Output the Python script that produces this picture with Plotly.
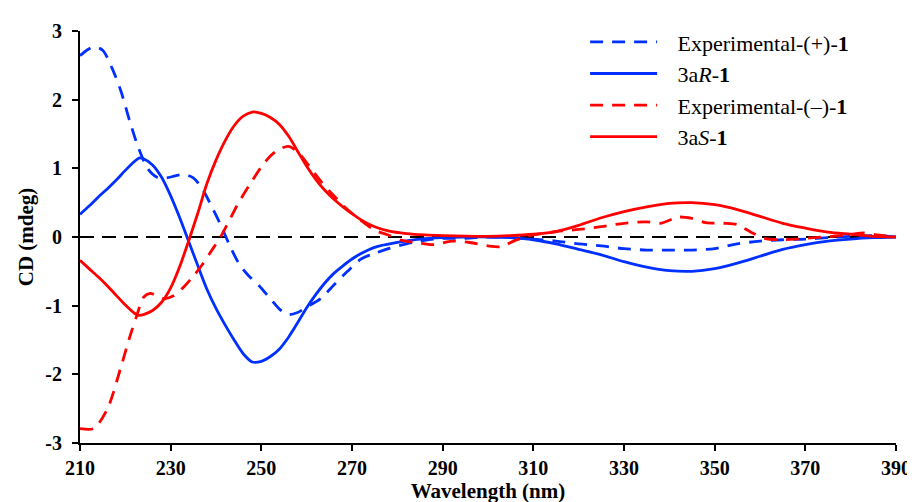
import plotly.graph_objects as go

# ---- data ----
wl_exp_pos = [210, 211.5, 213, 215, 217, 219, 221, 223, 225, 227, 229, 231, 233, 235, 237, 239, 241, 243, 245, 247,
              249.5, 252, 254, 256, 258, 260, 263, 266, 269, 272, 275, 278, 282, 286, 290, 295, 300, 305, 310, 315,
              320, 325, 330, 335, 340, 345, 350, 355, 360, 365, 370, 375, 380, 385, 390]
cd_exp_pos = [2.64, 2.72, 2.77, 2.72, 2.47, 2.13, 1.68, 1.28, 0.99, 0.87, 0.86, 0.89, 0.91, 0.86, 0.70, 0.45, 0.18, -0.12, -0.38, -0.55,
              -0.71, -0.90, -1.05, -1.13, -1.10, -1.02, -0.90, -0.70, -0.50, -0.32, -0.24, -0.17, -0.10, -0.05, -0.02, -0.02, 0.00, -0.01, -0.03, -0.06,
              -0.10, -0.13, -0.17, -0.19, -0.19, -0.19, -0.17, -0.10, -0.06, -0.04, -0.03, -0.01, 0.01, 0.02, 0.0]

wl_calc_r = [210, 212, 214, 216, 218, 220, 222, 223, 224, 226, 228, 230, 232, 234, 236, 238, 240, 242, 244, 246,
             248, 250, 252, 254, 256, 258, 260, 262, 264, 266, 268, 270, 272, 275, 280, 285, 290, 300, 305, 310,
             315, 320, 325, 330, 335, 340, 345, 350, 355, 360, 365, 370, 375, 380, 385, 390]
cd_calc_r = [0.33, 0.45, 0.58, 0.70, 0.83, 0.97, 1.10, 1.15, 1.14, 1.05, 0.87, 0.60, 0.28, -0.07, -0.42, -0.76, -1.04, -1.28, -1.50, -1.70,
             -1.82, -1.81, -1.74, -1.63, -1.46, -1.25, -1.03, -0.84, -0.67, -0.53, -0.42, -0.32, -0.24, -0.15, -0.08, -0.03, -0.01, 0.00, -0.01, -0.04,
             -0.10, -0.18, -0.26, -0.36, -0.44, -0.49, -0.50, -0.46, -0.38, -0.28, -0.18, -0.11, -0.06, -0.03, -0.01, 0.0]

wl_exp_neg = [210, 213, 216, 219, 221, 222.5, 224, 225.5, 227, 228.5, 230.5, 233, 235, 237, 239, 241, 243, 245, 247.5, 250,
              252, 254, 256, 258, 260, 263, 266, 269, 272, 275, 278, 281, 284, 288, 292, 296, 300, 303, 306, 310,
              315, 320, 325, 330, 335, 338, 342, 345, 348, 352, 355, 358, 361, 364, 368, 372, 376, 380, 383, 386, 390]
cd_exp_neg = [-2.79, -2.79, -2.51, -1.90, -1.45, -1.15, -0.88, -0.82, -0.86, -0.90, -0.86, -0.72, -0.57, -0.40, -0.20, 0.0, 0.25, 0.50, 0.77, 1.02,
              1.18, 1.28, 1.32, 1.24, 1.08, 0.82, 0.60, 0.40, 0.24, 0.10, 0.03, -0.05, -0.08, -0.11, -0.06, -0.08, -0.13, -0.14, -0.05, 0.03,
              0.08, 0.11, 0.15, 0.20, 0.22, 0.20, 0.29, 0.27, 0.21, 0.20, 0.18, 0.07, -0.02, -0.04, -0.03, -0.01, 0.01, 0.04, 0.06, 0.03, 0.0]

wl_calc_s = [210, 212, 214, 216, 218, 220, 222, 223, 224, 226, 228, 230, 232, 234, 236, 238, 240, 242, 244, 246,
             248, 250, 252, 254, 256, 258, 260, 262, 264, 266, 268, 270, 272, 275, 278, 282, 286, 290, 300, 305,
             310, 315, 320, 325, 330, 335, 340, 345, 350, 355, 360, 365, 370, 375, 380, 385, 390]
cd_calc_s = [-0.34, -0.46, -0.58, -0.71, -0.85, -0.99, -1.11, -1.14, -1.13, -1.07, -0.95, -0.74, -0.43, -0.05, 0.35, 0.78, 1.12, 1.40, 1.62, 1.76,
             1.82, 1.80, 1.74, 1.64, 1.47, 1.25, 1.03, 0.84, 0.68, 0.55, 0.44, 0.34, 0.25, 0.15, 0.09, 0.05, 0.03, 0.02, 0.01, 0.02,
             0.04, 0.08, 0.17, 0.28, 0.37, 0.44, 0.49, 0.50, 0.47, 0.40, 0.30, 0.20, 0.13, 0.07, 0.04, 0.01, 0.0]

x_ticks = [210, 230, 250, 270, 290, 310, 330, 350, 370, 390]
y_ticks = [-3, -2, -1, 0, 1, 2, 3]
zero_x = [210, 390]
zero_y = [0, 0]

GAP = "\u2002\u2009"
names = [GAP + "Experimental-(+)-<b>1</b>", GAP + "3a<i>R</i>-<b>1</b>",
         GAP + "Experimental-(\u2013)-<b>1</b>", GAP + "3a<i>S</i>-<b>1</b>"]

BLUE = "rgb(0,48,255)"
RED = "rgb(255,0,0)"
DASH = "13px,9px"
LW = 2.8

fig = go.Figure()
fig.add_trace(go.Scatter(x=zero_x, y=zero_y, mode="lines", showlegend=False, hoverinfo="skip",
                         line=dict(color="black", width=2, dash="14px,8px")))
fig.add_trace(go.Scatter(x=wl_exp_pos, y=cd_exp_pos, mode="lines", name=names[0],
                         line=dict(color=BLUE, width=LW, dash=DASH, shape="spline", smoothing=0.8)))
fig.add_trace(go.Scatter(x=wl_calc_r, y=cd_calc_r, mode="lines", name=names[1],
                         line=dict(color=BLUE, width=LW, shape="spline", smoothing=0.8)))
fig.add_trace(go.Scatter(x=wl_exp_neg, y=cd_exp_neg, mode="lines", name=names[2],
                         line=dict(color=RED, width=LW, dash=DASH, shape="spline", smoothing=0.8)))
fig.add_trace(go.Scatter(x=wl_calc_s, y=cd_calc_s, mode="lines", name=names[3],
                         line=dict(color=RED, width=LW, shape="spline", smoothing=0.8)))

tickfont = dict(family="Liberation Serif", size=20, color="black", weight="bold")
titlefont = dict(family="Liberation Serif", size=21, color="black", weight="bold")

fig.update_layout(
    width=915, height=502,
    margin=dict(l=72, r=18, t=22, b=57),
    paper_bgcolor="white", plot_bgcolor="white",
    font=dict(family="Liberation Serif", color="black"),
    legend=dict(x=0.619, y=1.024, xanchor="left", yanchor="top",
                font=dict(family="Liberation Serif", size=22, color="black"),
                bgcolor="rgba(0,0,0,0)", itemwidth=67, tracegroupgap=0),
    xaxis=dict(range=[210, 390], tickvals=x_ticks, ticktext=[str(v) for v in x_ticks],
               showgrid=False, zeroline=False, showline=True, linecolor="black", linewidth=2,
               ticks="outside", ticklen=6, tickwidth=2, tickcolor="black", tickfont=tickfont,
               title=dict(text="Wavelength (nm)", font=titlefont, standoff=4)),
    yaxis=dict(range=[-3, 3], tickvals=y_ticks, ticktext=[str(v) for v in y_ticks],
               showgrid=False, zeroline=False, showline=True, linecolor="black", linewidth=2,
               ticks="outside", ticklen=6, tickwidth=2, tickcolor="black", tickfont=tickfont,
               ticklabelstandoff=6,
               title=dict(text="CD (mdeg)", font=titlefont, standoff=6)),
)

fig.write_html("out.html")
